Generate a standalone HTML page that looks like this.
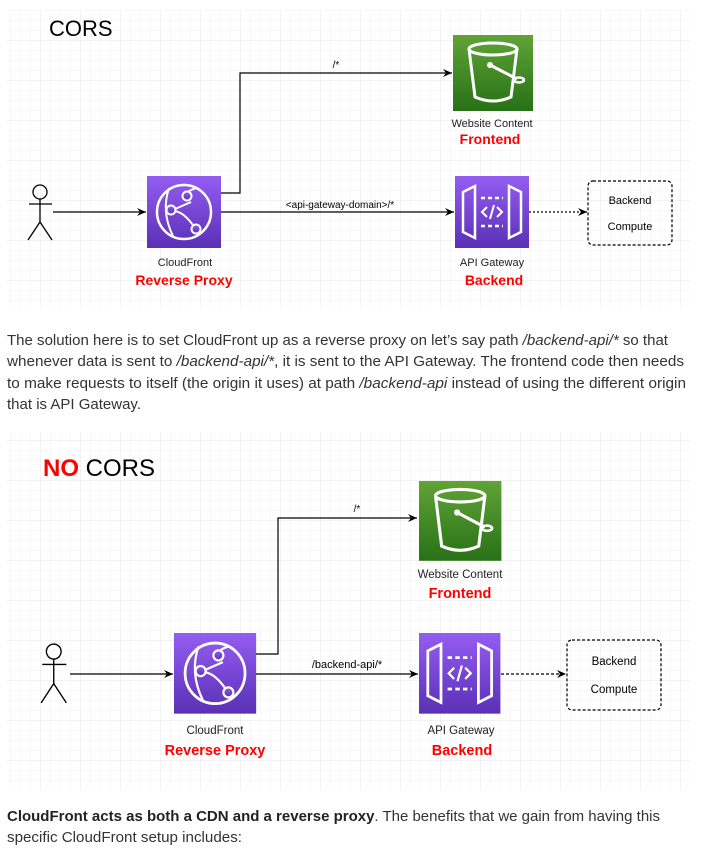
<!DOCTYPE html>
<html><head><meta charset="utf-8"><style>
html,body{margin:0;padding:0;background:#fff;}
svg{display:block}
text{font-family:"Liberation Sans",sans-serif;}
</style></head><body>
<svg width="703" height="856" viewBox="0 0 703 856" xmlns="http://www.w3.org/2000/svg">
<defs>
<pattern id="gmin" width="10" height="10" patternUnits="userSpaceOnUse"><path d="M10 0H0V10" fill="none" stroke="#f1f1f1" stroke-width="1"/></pattern>
<pattern id="gmaj" width="40" height="40" patternUnits="userSpaceOnUse"><rect width="40" height="40" fill="url(#gmin)"/><path d="M40 0H0V40" fill="none" stroke="#e4e4e4" stroke-width="1"/></pattern>
<linearGradient id="green" x1="0" y1="0" x2="0" y2="1"><stop offset="0" stop-color="#60a337"/><stop offset="1" stop-color="#277116"/></linearGradient>
<linearGradient id="purple" x1="0" y1="0" x2="0" y2="1"><stop offset="0" stop-color="#945df2"/><stop offset="1" stop-color="#5a30b5"/></linearGradient>
<marker id="ar" markerWidth="10" markerHeight="10" refX="9" refY="5" orient="auto" markerUnits="userSpaceOnUse"><path d="M0 1L9 5L0 9L3 5Z" fill="#000"/></marker>
<g id="s3">
<rect width="80" height="76" fill="url(#green)"/>
<path d="M16 14 L22 62 Q40 70 58 62 L64 14" fill="none" stroke="#fff" stroke-width="3"/>
<ellipse cx="40" cy="14" rx="24" ry="6" fill="none" stroke="#fff" stroke-width="3"/>
<path d="M37 30 L64 44" stroke="#fff" stroke-width="3"/>
<circle cx="37" cy="30" r="3" fill="#fff"/>
<ellipse cx="66" cy="45" rx="5" ry="2.5" fill="none" stroke="#fff" stroke-width="2.5"/>
</g>
<g id="cf">
<rect width="74" height="72" fill="url(#purple)"/>
<circle cx="37" cy="36" r="27" fill="none" stroke="#fff" stroke-width="2.5"/>
<path d="M22 12 Q14 36 26 60 M50 12 Q40 14 40 20 M25 35 Q36 34 48 52 M44 26 L28 33 M34 30" fill="none" stroke="#fff" stroke-width="2"/>
<circle cx="40" cy="20" r="4.5" fill="url(#purple)" stroke="#fff" stroke-width="2"/>
<circle cx="24" cy="34" r="4.5" fill="url(#purple)" stroke="#fff" stroke-width="2"/>
<circle cx="49" cy="53" r="4.5" fill="url(#purple)" stroke="#fff" stroke-width="2"/>
</g>
<g id="ag">
<rect width="74" height="72" fill="url(#purple)"/>
<path d="M8 16 L20 10 L20 62 L8 56 Z M66 16 L54 10 L54 62 L66 56 Z" fill="none" stroke="#fff" stroke-width="2.5"/>
<path d="M26 22 H48 M26 50 H48" stroke="#fff" stroke-width="2.5" stroke-dasharray="4 3"/>
<path d="M32 31 L27 36 L32 41 M42 31 L47 36 L42 41 M39 29 L35 43" fill="none" stroke="#fff" stroke-width="2"/>
</g>
<g id="person" fill="none" stroke="#000" stroke-width="1.3">
<circle cx="15" cy="8" r="7"/><path d="M15 15V38M4 20H27M15 38L3 56M15 38L27 56"/>
</g>
</defs>

<!-- Diagram 1 -->
<rect x="7" y="10" width="683" height="296" fill="url(#gmaj)"/>
<text x="49" y="36" font-size="22">CORS</text>
<use href="#s3" x="453" y="35"/>
<text x="492" y="127" font-size="11" text-anchor="middle" fill="#222">Website Content</text>
<text x="490" y="144" font-size="14" font-weight="bold" text-anchor="middle" fill="#f00">Frontend</text>
<use href="#person" x="25" y="184"/>
<line x1="53" y1="212" x2="146" y2="212" stroke="#000" stroke-width="1.2" marker-end="url(#ar)"/>
<use href="#cf" x="147" y="176"/>
<text x="185" y="266" font-size="11" text-anchor="middle" fill="#222">CloudFront</text>
<text x="184" y="285" font-size="14" font-weight="bold" text-anchor="middle" fill="#f00">Reverse Proxy</text>
<polyline points="221,193 240,193 240,73 452,73" fill="none" stroke="#000" stroke-width="1.2" marker-end="url(#ar)"/>
<text x="336" y="68" font-size="10" text-anchor="middle">/*</text>
<line x1="221" y1="212" x2="454" y2="212" stroke="#000" stroke-width="1.2" marker-end="url(#ar)"/>
<text x="340" y="208" font-size="10" text-anchor="middle">&lt;api-gateway-domain&gt;/*</text>
<use href="#ag" x="455" y="176"/>
<text x="492" y="266" font-size="11" text-anchor="middle" fill="#222">API Gateway</text>
<text x="494" y="285" font-size="14" font-weight="bold" text-anchor="middle" fill="#f00">Backend</text>
<line x1="529" y1="212" x2="587" y2="212" stroke="#000" stroke-width="1.2" stroke-dasharray="2 2" marker-end="url(#ar)"/>
<rect x="588" y="181" width="84" height="64" rx="5" fill="none" stroke="#000" stroke-width="1.2" stroke-dasharray="3 2"/>
<text x="630" y="204" font-size="11" text-anchor="middle">Backend</text>
<text x="630" y="230" font-size="11" text-anchor="middle">Compute</text>

<!-- Paragraph 1 -->
<g font-size="14.5" fill="#333">
<text x="7" y="345" textLength="661" lengthAdjust="spacingAndGlyphs">The solution here is to set CloudFront up as a reverse proxy on let’s say path <tspan font-style="italic">/backend-api/*</tspan> so that</text>
<text x="7" y="366" textLength="677" lengthAdjust="spacingAndGlyphs">whenever data is sent to <tspan font-style="italic">/backend-api/*</tspan>, it is sent to the API Gateway. The frontend code then needs</text>
<text x="7" y="388" textLength="679" lengthAdjust="spacingAndGlyphs">to make requests to itself (the origin it uses) at path <tspan font-style="italic">/backend-api</tspan> instead of using the different origin</text>
<text x="7" y="409" textLength="134" lengthAdjust="spacingAndGlyphs">that is API Gateway.</text>
</g>

<!-- Diagram 2 -->
<rect x="7" y="432" width="683" height="358" fill="url(#gmaj)"/>
<text x="43" y="476" font-size="24"><tspan fill="#f00" font-weight="bold">NO</tspan> CORS</text>
<use href="#s3" x="419" y="481" transform="translate(419 481) scale(1.03 1.05) translate(-419 -481)"/>
<text x="460" y="578" font-size="11.5" text-anchor="middle" fill="#222">Website Content</text>
<text x="460" y="598" font-size="14.5" font-weight="bold" text-anchor="middle" fill="#f00">Frontend</text>
<use href="#person" x="38" y="643" transform="translate(38 643) scale(1.05 1.07) translate(-38 -643)"/>
<line x1="70" y1="674" x2="173" y2="674" stroke="#000" stroke-width="1.2" marker-end="url(#ar)"/>
<use href="#cf" x="174" y="633" transform="translate(174 633) scale(1.11 1.12) translate(-174 -633)"/>
<text x="215" y="734" font-size="11.5" text-anchor="middle" fill="#222">CloudFront</text>
<text x="215" y="755" font-size="14.5" font-weight="bold" text-anchor="middle" fill="#f00">Reverse Proxy</text>
<polyline points="256,654 278,654 278,518 417,518" fill="none" stroke="#000" stroke-width="1.2" marker-end="url(#ar)"/>
<text x="357" y="512" font-size="10" text-anchor="middle">/*</text>
<line x1="256" y1="674" x2="418" y2="674" stroke="#000" stroke-width="1.2" marker-end="url(#ar)"/>
<text x="347" y="668" font-size="11" text-anchor="middle">/backend-api/*</text>
<use href="#ag" x="419" y="633" transform="translate(419 633) scale(1.1 1.12) translate(-419 -633)"/>
<text x="461" y="734" font-size="11.5" text-anchor="middle" fill="#222">API Gateway</text>
<text x="462" y="755" font-size="14.5" font-weight="bold" text-anchor="middle" fill="#f00">Backend</text>
<line x1="501" y1="674" x2="566" y2="674" stroke="#000" stroke-width="1.2" stroke-dasharray="3 2" marker-end="url(#ar)"/>
<rect x="567" y="640" width="94" height="70" rx="5" fill="none" stroke="#000" stroke-width="1.2" stroke-dasharray="3 2"/>
<text x="614" y="665" font-size="11.5" text-anchor="middle">Backend</text>
<text x="614" y="693" font-size="11.5" text-anchor="middle">Compute</text>

<!-- Paragraph 2 -->
<g font-size="14.5" fill="#333">
<text x="7" y="821" textLength="653" lengthAdjust="spacingAndGlyphs"><tspan font-weight="bold" fill="#222">CloudFront acts as both a CDN and a reverse proxy</tspan>. The benefits that we gain from having this</text>
<text x="7" y="842" textLength="235" lengthAdjust="spacingAndGlyphs">specific CloudFront setup includes:</text>
</g>
</svg>
</body></html>
